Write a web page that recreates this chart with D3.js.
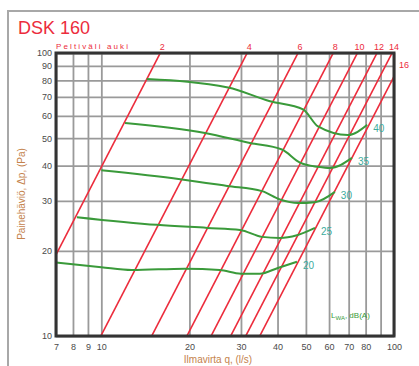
<!DOCTYPE html>
<html>
<head>
<meta charset="utf-8">
<script src="https://cdn.jsdelivr.net/npm/d3@7"></script>
<style>
    body { margin: 0; background: #fff; }
    svg { display: block; font-family: "Liberation Sans", Arial, sans-serif; }
    .grid line { stroke: #9a9a9a; stroke-width: 1.8; }
    .grid .domain { display: none; }
    .ticks .domain, .ticks line { display: none; }
    .ticks text { fill: #4a4a4a; font-size: 9px; }
</style>
</head>
<body>
<svg id="plate" width="419" height="366"></svg>
<script>
// axis ticks
var xTicks = [7, 8, 9, 10, 20, 30, 40, 50, 60, 70, 80, 90, 100];
var xTickLabels = [7, 8, 9, 10, 20, 30, 40, 50, 60, 70, 80, 100];
var yTicks = [10, 20, 30, 40, 50, 60, 70, 80, 90, 100];

// damper positions and the flow (l/s) where each line reaches 100 Pa
var damperPos = [2, 4, 6, 8, 10, 12, 14, 16];
var damperFlowAt100 = [15.9, 31.5, 47, 62, 75, 87.5, 98.5, 110];

// sound power curves, [q, dp]
var lwaLevels = [20, 25, 30, 35, 40];
var curve20 = [[7, 18.2], [10, 17.5], [12.7, 17.1], [19.3, 17.3], [25.4, 17.1], [30, 16.6], [34.8, 16.6], [40.1, 17.4], [46.6, 18.3]];
var curve25 = [[8.25, 26.3], [15.5, 24.7], [23, 24.1], [29.8, 23.7], [35.4, 22.4], [40.7, 22.2], [46.6, 22.7], [53.7, 24.1]];
var curve30 = [[10, 38.5], [18.6, 35.8], [26.9, 33.9], [35.4, 32.5], [40.7, 30.4], [47, 29.5], [53.7, 29.7], [62.8, 32.3]];
var curve35 = [[12.05, 56.6], [22.6, 52.2], [32.2, 48.1], [41.4, 45.6], [47.7, 41], [55, 39.6], [60.4, 39.2], [71.8, 42.6]];
var curve40 = [[14.3, 80.9], [27.1, 75.5], [37.7, 67.5], [48.9, 63.2], [55, 55], [69.6, 51.3], [81, 55.8]];
var curves = [curve20, curve25, curve30, curve35, curve40];

var red = '#ec2c3c';
var green = '#3a9a3a';
var brown = '#c4824c';

var svg = d3.select('#plate');
var margin = {top: 53, right: 25, bottom: 30, left: 56};
var width = 419 - margin.left - margin.right;
var height = 366 - margin.top - margin.bottom;

// outer frame
svg.append('rect')
    .attr('x', 8).attr('y', 11)
    .attr('width', 430).attr('height', 380)
    .attr('fill', 'none')
    .attr('stroke', '#a8a8a8')
    .attr('stroke-width', 2);

svg.append('text')
    .attr('x', 18).attr('y', 34)
    .attr('fill', red)
    .style('font-size', '18px')
    .text('DSK 160');

var g = svg.append('g')
    .attr('transform', 'translate(' + margin.left + ',' + margin.top + ')');

var x = d3.scaleLog().domain([7, 100]).range([0, width]);
var y = d3.scaleLog().domain([10, 100]).range([height, 0]);

// grid
g.append('g')
    .attr('class', 'grid')
    .attr('transform', 'translate(0,' + height + ')')
    .call(d3.axisBottom(x).tickValues(xTicks).tickSize(-height).tickFormat(''));
g.append('g')
    .attr('class', 'grid')
    .call(d3.axisLeft(y).tickValues(yTicks).tickSize(-width).tickFormat(''));

// tick labels
g.append('g')
    .attr('class', 'ticks')
    .attr('transform', 'translate(0,' + height + ')')
    .call(d3.axisBottom(x).tickValues(xTickLabels).tickSize(0).tickPadding(8).tickFormat(d3.format('d')));
g.append('g')
    .attr('class', 'ticks')
    .call(d3.axisLeft(y).tickValues(yTicks).tickSize(0).tickPadding(4).tickFormat(d3.format('d')));

g.append('clipPath').attr('id', 'clip')
    .append('rect').attr('width', width).attr('height', height);

// damper lines, dp grows with q squared
var damperLine = d3.line()
    .x(function(d) { return x(d[0]); })
    .y(function(d) { return y(d[1]); });

damperFlowAt100.forEach(function(q100, i) {
    var pts = [[q100 * Math.sqrt(0.05), 5], [q100 * Math.sqrt(2), 200]];
    g.append('path')
        .attr('clip-path', 'url(#clip)')
        .attr('d', damperLine(pts))
        .attr('fill', 'none')
        .attr('stroke', red)
        .attr('stroke-width', 1.6);
    var lbl = g.append('text')
        .attr('fill', red)
        .style('font-size', '9px')
        .text(damperPos[i]);
    if (q100 <= 100) {
        lbl.attr('x', x(q100) + 2).attr('y', -3).attr('text-anchor', 'middle');
    } else {
        lbl.attr('x', width + 5).attr('y', y(100 * Math.pow(100 / q100, 2)) - 8);
    }
});

g.append('text')
    .attr('x', 0).attr('y', -4)
    .attr('fill', red)
    .attr('textLength', 72)
    .style('font-size', '8px')
    .text('Peltiväli auki');

// sound curves
var soundLine = d3.line()
    .curve(d3.curveMonotoneX)
    .x(function(d) { return x(d[0]); })
    .y(function(d) { return y(d[1]); });

curves.forEach(function(c, i) {
    g.append('path')
        .attr('d', soundLine(c))
        .attr('fill', 'none')
        .attr('stroke', green)
        .attr('stroke-width', 2);
    var last = c[c.length - 1];
    g.append('text')
        .attr('x', x(last[0]) + 6)
        .attr('y', y(last[1]) + 7)
        .attr('fill', '#3cab9c')
        .style('font-size', '10px')
        .text(lwaLevels[i]);
});

var lw = g.append('text')
    .attr('x', 275).attr('y', 265)
    .attr('fill', green)
    .style('font-size', '8px');
lw.append('tspan').text('L');
lw.append('tspan').attr('dy', 2).style('font-size', '6px').text('WA');
lw.append('tspan').attr('dy', -2).text(', dB(A)');

// frame of the plot
g.append('rect')
    .attr('width', width).attr('height', height)
    .attr('fill', 'none')
    .attr('stroke', '#333')
    .attr('stroke-width', 3);

// axis titles
svg.append('text')
    .attr('transform', 'translate(25,194) rotate(-90)')
    .attr('text-anchor', 'middle')
    .attr('fill', brown)
    .style('font-size', '10px')
    .text('Painehäviö, Δp, (Pa)');

svg.append('text')
    .attr('x', 218).attr('y', 363)
    .attr('text-anchor', 'middle')
    .attr('fill', brown)
    .style('font-size', '10px')
    .text('Ilmavirta q, (l/s)');
</script>
</body>
</html>
